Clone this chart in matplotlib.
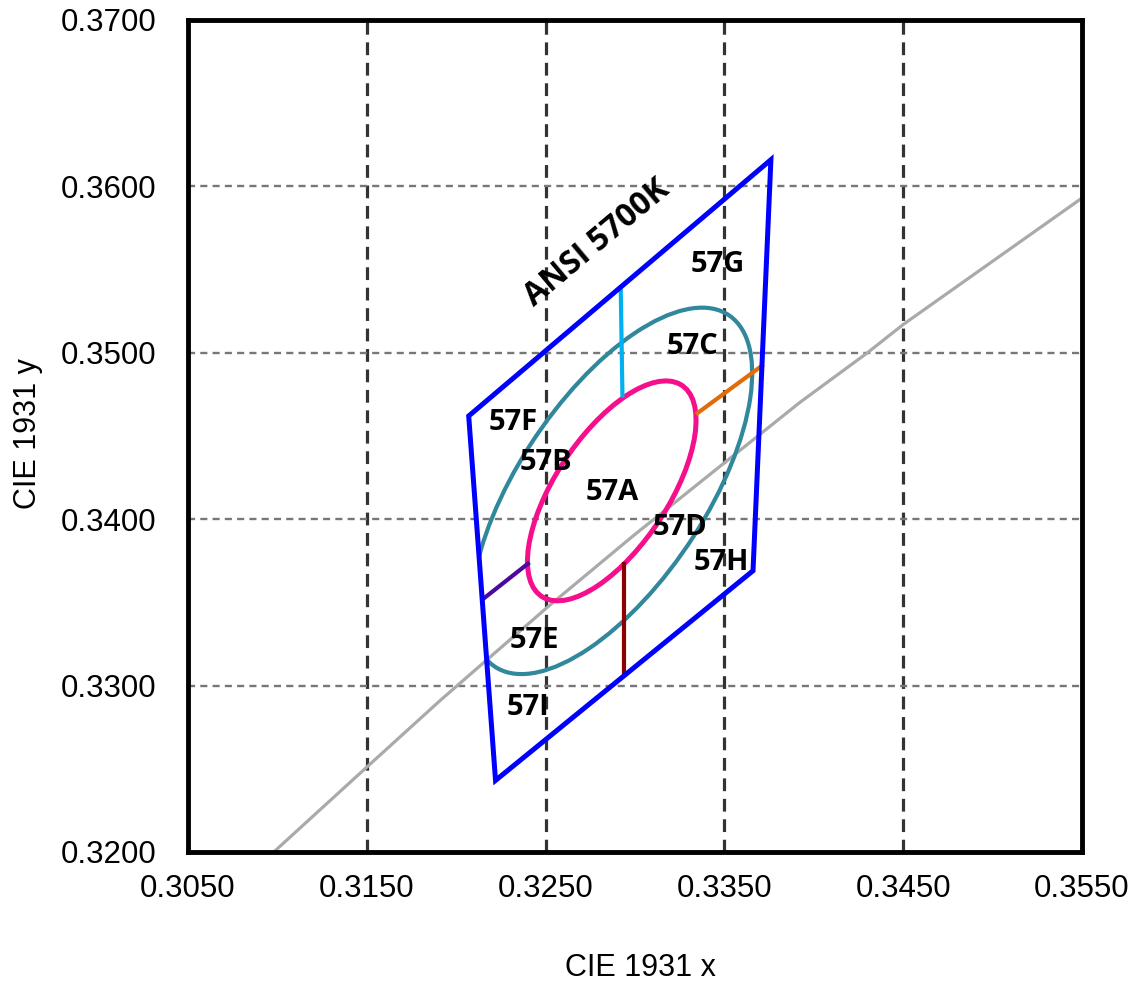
import matplotlib
matplotlib.use("Agg")
import matplotlib.pyplot as plt
from matplotlib.patches import Ellipse, Polygon

# ANSI 5700K quadrangle corners (CIE 1931 x, y)
quad_x = [0.3207, 0.3376, 0.3366, 0.3222]
quad_y = [0.3462, 0.3616, 0.3369, 0.3243]

# Planckian locus
locus_x = [0.3098, 0.3150, 0.3191, 0.3252, 0.3299, 0.3349, 0.3392, 0.3430, 0.3450, 0.3550]
locus_y = [0.3200, 0.3251, 0.3291, 0.3348, 0.3390, 0.3433, 0.3470, 0.3500, 0.3517, 0.3593]

# MacAdam ellipses: centre, semi-axes a, b, rotation (deg)
center = (0.3287, 0.3417)
inner_ab = (0.00746, 0.00320)
outer_ab = (0.01243, 0.00533)
ellipse_angle = 59.09

# bin divider segments
seg_x = [[0.3292, 0.3293], [0.3334, 0.3372], [0.3294, 0.3294], [0.3241, 0.3215]]
seg_y = [[0.3540, 0.3473], [0.3463, 0.3493], [0.3374, 0.3306], [0.3374, 0.3352]]
seg_colors = ["#00b0f0", "#e36c0a", "#8b0000", "#4b0a9e"]

# bin labels
bin_labels = ["57G", "57C", "57F", "57B", "57A", "57D", "57H", "57E", "57I"]
bin_x = [0.3346, 0.3332, 0.3232, 0.3250, 0.3287, 0.3325, 0.3348, 0.3244, 0.3240]
bin_y = [0.3553, 0.3504, 0.3458, 0.3434, 0.3416, 0.3395, 0.3374, 0.3327, 0.3287]

x_ticks = [0.3050, 0.3150, 0.3250, 0.3350, 0.3450, 0.3550]
y_ticks = [0.3200, 0.3300, 0.3400, 0.3500, 0.3600, 0.3700]

plt.rcParams['font.family'] = ['Liberation Sans', 'DejaVu Sans']

fig = plt.figure(figsize=(11.31, 9.83), dpi=100)
ax = fig.add_axes([0.1662, 0.1333, 0.7905, 0.8464])

ax.set_xlim(x_ticks[0], x_ticks[-1])
ax.set_ylim(y_ticks[0], y_ticks[-1])
ax.set_xticks(x_ticks)
ax.set_yticks(y_ticks)
ax.set_xticklabels([f"{v:.4f}" for v in x_ticks])
ax.set_yticklabels([f"{v:.4f}" for v in y_ticks])
ax.tick_params(length=0, labelsize=22.5)
ax.tick_params(axis='x', pad=16)
ax.tick_params(axis='y', pad=23)

# grid lines
for v in x_ticks[1:-1]:
    ax.axvline(v, color='#333333', lw=2.3, ls=(0, (4.0, 2.4)), zorder=1)
for v in y_ticks[1:-1]:
    ax.axhline(v, color='#777777', lw=1.7, ls=(0, (3.0, 2.2)), zorder=1)

for s in ax.spines.values():
    s.set_linewidth(3.5)
    s.set_color('black')
    s.set_zorder(10)

# locus
ax.plot(locus_x, locus_y, color='#aaaaaa', lw=2.3, zorder=2)

# quadrangle
quad = Polygon(list(zip(quad_x, quad_y)), closed=True, fill=False,
               edgecolor='#0000ff', lw=3.6, zorder=5)
ax.add_patch(quad)

# ellipses
outer = Ellipse(center, 2 * outer_ab[0], 2 * outer_ab[1], angle=ellipse_angle,
                fill=False, edgecolor='#31879c', lw=3, zorder=3)
ax.add_patch(outer)
clip = Polygon(list(zip(quad_x, quad_y)), closed=True, transform=ax.transData)
outer.set_clip_path(clip)

inner = Ellipse(center, 2 * inner_ab[0], 2 * inner_ab[1], angle=ellipse_angle,
                fill=False, edgecolor='#f50f8c', lw=3.6, zorder=4)
ax.add_patch(inner)

for sx, sy, c in zip(seg_x, seg_y, seg_colors):
    ax.plot(sx, sy, color=c, lw=3, zorder=4.5, solid_capstyle='butt')

for lab, lx, ly in zip(bin_labels, bin_x, bin_y):
    ax.text(lx, ly, lab, ha='center', va='center', fontsize=21,
            fontweight='bold', family=['Open Sans', 'DejaVu Sans'], zorder=6)

ax.text(0.3279, 0.3566, "ANSI 5700K", ha='center', va='center', fontsize=23,
        fontweight='bold', family=['Open Sans', 'DejaVu Sans'], rotation=40, zorder=6)

ax.set_xlabel("CIE 1931 x", fontsize=22)
ax.set_ylabel("CIE 1931 y", fontsize=22)
ax.xaxis.set_label_coords(0.5056, -0.122)
ax.yaxis.set_label_coords(-0.162, 0.503)

fig.savefig("out.png", dpi=100)
